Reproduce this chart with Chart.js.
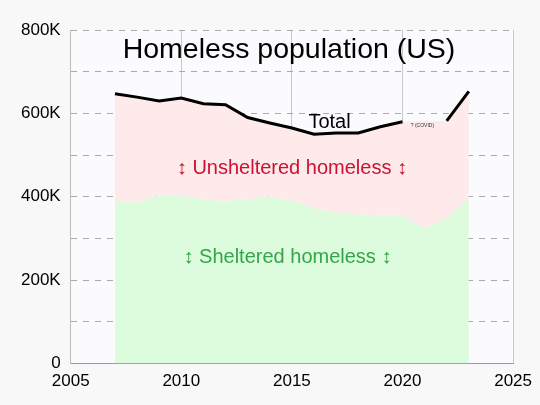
<!DOCTYPE html>
<html><head><meta charset="utf-8">
<script src="https://cdn.jsdelivr.net/npm/chart.js@4"></script>
<style>html,body{margin:0;background:#f8f8f8}#w{width:540px;height:405px}</style>
</head><body><div id="w"><canvas id="c"></canvas></div>
<script>
const years = [2007,2008,2009,2010,2011,2012,2013,2014,2015,2016,2017,2018,2019,2020,2021,2022,2023];
const total = [647,639,630,637,623,621,590,577,565,550,553,553,568,580,null,582,653];
const unshelteredTop = [647,639,630,637,623,621,590,577,565,550,553,553,568,580,581,582,653];
const sheltered = [391,387,403,404,393,390,394,401,391,373,361,358,356,354,326,348,396];
const yTicks = [0,200,400,600,800];
const pts = a => years.map((y,i)=>({x:y,y:a[i]===null?null:a[i]*1000}));
const labels = {
  id:'labels',
  afterDatasetsDraw(ch){
    const {ctx,scales:{x,y},chartArea:a}=ch;
    ctx.save();ctx.textAlign='center';ctx.textBaseline='middle';
    ctx.fillStyle='#000';ctx.font='28.5px "Liberation Sans", Arial';
    ctx.fillText('Homeless population (US)',289,50);
    ctx.font='20px "Liberation Sans", Arial';
    ctx.fillText('Total',x.getPixelForValue(2016.7),y.getPixelForValue(578000));
    ctx.fillStyle='#cc1133';
    ctx.fillText('↕ Unsheltered homeless ↕',x.getPixelForValue(2015),y.getPixelForValue(468000));
    ctx.fillStyle='#33a64a';
    ctx.fillText('↕ Sheltered homeless ↕',x.getPixelForValue(2014.8),y.getPixelForValue(255000));
    ctx.fillStyle='#333';ctx.font='5px "Liberation Sans", Arial';
    ctx.fillText('? (COVID)',x.getPixelForValue(2020.9),y.getPixelForValue(570000));
    ctx.restore();
  },
  beforeDraw(ch){const {ctx,chartArea:a}=ch;ctx.save();ctx.fillStyle='#fbfbfe';ctx.fillRect(a.left,a.top,a.right-a.left,a.bottom-a.top);ctx.restore();}
};
new Chart(document.getElementById('c'),{
  type:'line',
  data:{datasets:[
    {data:pts(sheltered),fill:'origin',backgroundColor:'#ddfcdd',borderWidth:0,pointRadius:0,order:3},
    {data:pts(unshelteredTop),fill:'-1',backgroundColor:'#feeaea',borderWidth:0,pointRadius:0,order:2},
    {data:pts(total),fill:false,borderColor:'#000',borderWidth:3,pointRadius:0,spanGaps:false,order:1}
  ]},
  options:{
    responsive:true,maintainAspectRatio:false,animation:false,
    layout:{padding:{top:30,right:26,bottom:5,left:11}},
    plugins:{legend:{display:false},tooltip:{enabled:false}},
    scales:{
      x:{type:'linear',min:2005,max:2025,
        ticks:{stepSize:5,color:'#000',padding:8,font:{size:17,family:'"Liberation Sans", Arial'},callback:v=>String(v),maxRotation:0},
        grid:{color:'#c8c8c8',drawTicks:false},border:{color:'#999'}},
      y:{min:0,max:800000,
        ticks:{stepSize:100000,color:'#000',font:{size:17,family:'"Liberation Sans", Arial'},padding:10,
          callback:v=>yTicks.includes(v/1000)?(v===0?'0':(v/1000)+'K'):''},
        grid:{color:'#aaa',drawTicks:false},border:{dash:[6,6],color:'#bbb'}}
    }
  },
  plugins:[labels]
});
</script></body></html>
